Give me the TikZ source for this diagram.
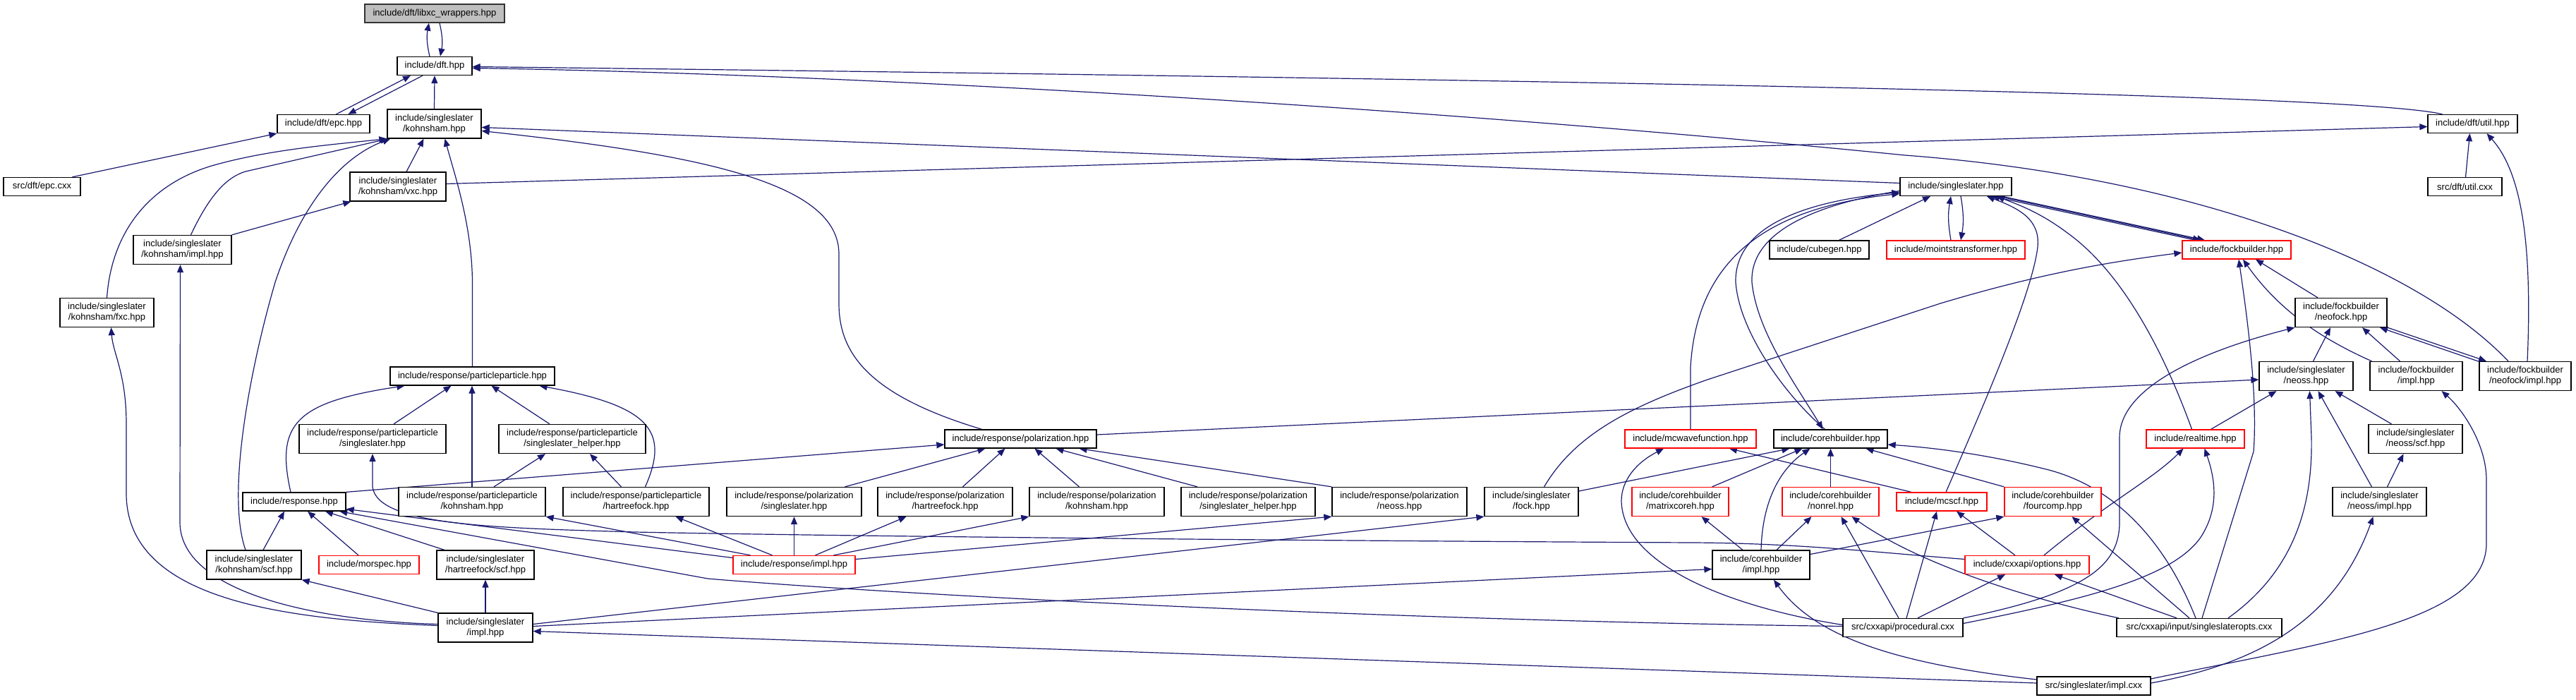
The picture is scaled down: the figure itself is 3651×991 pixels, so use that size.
\documentclass[tikz,border=0pt]{standalone}
\usepackage{fontspec}
\setmainfont{Liberation Sans}
\usetikzlibrary{arrows.meta}
\definecolor{edgecol}{HTML}{191970}
\definecolor{rootfill}{HTML}{BFBFBF}
\newcommand{\myfnt}{\fontsize{13}{15}\selectfont}
\pgfdeclarelayer{back}
\pgfdeclarelayer{bg}
\pgfsetlayers{back,bg,main}
\begin{document}
\begin{tikzpicture}[x=1pt,y=-1pt,
  nbox/.style={draw=black, line width=1.3pt, fill=white, inner sep=0pt, minimum height=26pt, align=center, font=\myfnt},
  two/.style={minimum height=41pt},
  trunc/.style={draw=red},
  rootn/.style={fill=rootfill, draw=black!80},
  dep/.style={draw=edgecol, line width=1.2pt, -{Triangle[length=11pt,width=9pt]}}]
\begin{pgfonlayer}{back}
\fill[white] (0,0) rectangle (3651,991);
\end{pgfonlayer}
\useasboundingbox (0,0) rectangle (3651,991);
% nodes
\node[nbox,rootn,minimum width=198pt] (libxc) at (616,19) {include/dft/libxc\_wrappers.hpp};
\node[nbox,minimum width=106pt] (dft) at (616,93.5) {include/dft.hpp};
\node[nbox,minimum width=131pt] (epc) at (458.5,175.5) {include/dft/epc.hpp};
\node[nbox,two,minimum width=133pt] (ks) at (615.5,175.5) {include/singleslater\\/kohnsham.hpp};
\node[nbox,minimum width=109pt] (epccxx) at (59.5,264.5) {src/dft/epc.cxx};
\node[nbox,two,minimum width=136pt] (vxc) at (564,264.5) {include/singleslater\\/kohnsham/vxc.hpp};
\node[nbox,two,minimum width=139pt] (ksimpl) at (258.5,354) {include/singleslater\\/kohnsham/impl.hpp};
\node[nbox,two,minimum width=133pt] (fxc) at (151.5,443) {include/singleslater\\/kohnsham/fxc.hpp};
\node[nbox,minimum width=233pt] (pp) at (669.5,533) {include/response/particleparticle.hpp};
\node[nbox,two,minimum width=208pt] (ppss) at (528,622) {include/response/particleparticle\\/singleslater.hpp};
\node[nbox,two,minimum width=208pt] (ppssh) at (811,622) {include/response/particleparticle\\/singleslater\_helper.hpp};
\node[nbox,minimum width=146pt] (resp) at (417,711) {include/response.hpp};
\node[nbox,two,minimum width=208pt] (ppks) at (669,711) {include/response/particleparticle\\/kohnsham.hpp};
\node[nbox,two,minimum width=207pt] (pphf) at (901.5,711) {include/response/particleparticle\\/hartreefock.hpp};
\node[nbox,two,minimum width=134pt] (ksscf) at (360,800.5) {include/singleslater\\/kohnsham/scf.hpp};
\node[nbox,trunc,minimum width=142pt] (morspec) at (523,800.5) {include/morspec.hpp};
\node[nbox,two,minimum width=138pt] (hfscf) at (688,800.5) {include/singleslater\\/hartreefock/scf.hpp};
\node[nbox,two,minimum width=134pt] (ssimpl) at (688,889.5) {include/singleslater\\/impl.hpp};
\node[nbox,minimum width=215pt] (pol) at (1446.5,622) {include/response/polarization.hpp};
\node[nbox,two,minimum width=191pt] (polss) at (1125.5,711) {include/response/polarization\\/singleslater.hpp};
\node[nbox,two,minimum width=191pt] (polhf) at (1339.5,711) {include/response/polarization\\/hartreefock.hpp};
\node[nbox,two,minimum width=191pt] (polks) at (1554.5,711) {include/response/polarization\\/kohnsham.hpp};
\node[nbox,two,minimum width=190pt] (polssh) at (1769,711) {include/response/polarization\\/singleslater\_helper.hpp};
\node[nbox,trunc,minimum width=173pt] (respimpl) at (1125.5,800.5) {include/response/impl.hpp};
\node[nbox,two,minimum width=191pt] (polneoss) at (1983.5,711) {include/response/polarization\\/neoss.hpp};
\node[nbox,two,minimum width=133pt] (fock) at (2170.5,711) {include/singleslater\\/fock.hpp};
\node[nbox,trunc,minimum width=186pt] (mcwave) at (2396,622) {include/mcwavefunction.hpp};
\node[nbox,minimum width=161pt] (coreh) at (2594.5,622) {include/corehbuilder.hpp};
\node[nbox,two,trunc,minimum width=137pt] (matrixcoreh) at (2381.5,711) {include/corehbuilder\\/matrixcoreh.hpp};
\node[nbox,two,trunc,minimum width=137pt] (nonrel) at (2594.5,711) {include/corehbuilder\\/nonrel.hpp};
\node[nbox,trunc,minimum width=128pt] (mcscf) at (2752,711) {include/mcscf.hpp};
\node[nbox,two,minimum width=138pt] (corehimpl) at (2496,800.5) {include/corehbuilder\\/impl.hpp};
\node[nbox,minimum width=170pt] (procedural) at (2697,889.5) {src/cxxapi/procedural.cxx};
\node[nbox,two,minimum width=133pt] (neoss) at (3268.5,533) {include/singleslater\\/neoss.hpp};
\node[nbox,two,minimum width=131pt] (fbimpl) at (3424.5,533) {include/fockbuilder\\/impl.hpp};
\node[nbox,two,minimum width=130pt] (neofockimpl) at (3579,533) {include/fockbuilder\\/neofock/impl.hpp};
\node[nbox,trunc,minimum width=139pt] (realtime) at (3111.5,622) {include/realtime.hpp};
\node[nbox,two,minimum width=133pt] (neossscf) at (3423.5,622) {include/singleslater\\/neoss/scf.hpp};
\node[nbox,two,trunc,minimum width=137pt] (fourcomp) at (2909.5,711) {include/corehbuilder\\/fourcomp.hpp};
\node[nbox,two,minimum width=133pt] (neossimpl) at (3372.5,711) {include/singleslater\\/neoss/impl.hpp};
\node[nbox,trunc,minimum width=176pt] (options) at (2873,800.5) {include/cxxapi/options.hpp};
\node[nbox,minimum width=234pt] (ssopts) at (3117,889.5) {src/cxxapi/input/singleslateropts.cxx};
\node[nbox,minimum width=161pt] (ssimplcxx) at (2967.5,972) {src/singleslater/impl.cxx};
\node[nbox,minimum width=127pt] (util) at (3504.5,175.5) {include/dft/util.hpp};
\node[nbox,minimum width=105pt] (utilcxx) at (3493.5,264.5) {src/dft/util.cxx};
\node[nbox,minimum width=158pt] (ss) at (2772,264.5) {include/singleslater.hpp};
\node[nbox,trunc,minimum width=196pt] (moints) at (2772,354) {include/mointstransformer.hpp};
\node[nbox,trunc,minimum width=154pt] (fb) at (3170,354) {include/fockbuilder.hpp};
\node[nbox,two,minimum width=130pt] (neofock) at (3318,443) {include/fockbuilder\\/neofock.hpp};
\node[nbox,minimum width=141pt] (cubegen) at (2578.5,354) {include/cubegen.hpp};
% edges
\begin{pgfonlayer}{bg}
\draw[dep] ([xshift=-7pt]dft.north) to[bend left=12] ([xshift=-8pt]libxc.south);
\draw[dep] ([xshift=7pt]libxc.south) to[bend left=12] ([xshift=8pt]dft.north);
\draw[dep] ([xshift=18pt]epc.north) -- ([xshift=-34pt]dft.south);
\draw[dep] ([xshift=-17pt]dft.south) -- ([xshift=35pt]epc.north);
\draw[dep] (ks.north) -- (dft.south);
\draw[dep] ([xshift=-43pt]util.north) .. controls (3350,135) and (2400,115) .. ([yshift=-1pt]dft.east);
\draw[dep] ([xshift=-24pt]neofockimpl.north) .. controls (3420,370) and (3100,250) .. (2700,220) .. controls (2000,150) and (1200,105) .. ([yshift=-3pt]dft.east);
\draw[dep] ([xshift=3pt]neofockimpl.north) .. controls (3590,330) and (3570,240) .. ([xshift=20pt]util.south);
\draw[dep] ([xshift=1pt]utilcxx.north) -- ([xshift=-4pt]util.south);
\draw[dep] ([yshift=4pt]vxc.east) -- ([yshift=-4pt]util.west);
\draw[dep] ([yshift=5pt]ss.west) -- ([yshift=-5pt]ks.east);
\draw[dep] ([xshift=-55pt]pol.north) .. controls (1230,560) and (1189,500) .. (1189,430) -- (1189,360) .. controls (1189,260) and (1000,220) .. ([yshift=-10pt]ks.east);
\draw[dep] ([xshift=12pt]vxc.north) -- ([xshift=-15pt]ks.south);
\draw[dep] (ksimpl.north east) -- ([xshift=2pt]vxc.south west);
\draw[dep] ([xshift=12pt]ksimpl.north) .. controls (300,270) and (325,250) .. (348,243) -- ([xshift=2pt]ks.south west);
\draw[dep] (fxc.north) .. controls (158,330) and (210,262) .. (300,235) .. controls (380,212) and (470,205) .. (ks.south west);
\draw[dep] ([xshift=-12pt]ksscf.north) .. controls (320,700) and (355,520) .. (390,400) .. controls (430,280) and (490,220) .. ([xshift=5pt]ks.south west);
\draw[dep] (pp.north) -- (669.5,400) .. controls (669,320) and (645,250) .. ([xshift=15pt]ks.south);
\draw[dep] ([xshift=43pt]epccxx.north) -- (epc.south west);
\draw[dep] ([yshift=3pt]ssimpl.west) .. controls (400,878) and (180,850) .. (179,700) -- (179,600) .. controls (179,530) and (160,500) .. ([xshift=6pt]fxc.south);
\draw[dep] ([yshift=5pt]ssimpl.west) .. controls (450,880) and (255,840) .. (255,740) -- ([xshift=-3pt]ksimpl.south);
\draw[dep] (ssimpl.north west) -- (ksscf.south east);
\draw[dep] (ssimpl.north) -- (hfscf.south);
\draw[dep] ([xshift=30pt]ppss.north) -- ([xshift=-30pt]pp.south);
\draw[dep] ([xshift=-32pt]ppssh.north) -- ([xshift=27pt]pp.south);
\draw[dep] (ppks.north) -- ([xshift=-0.5pt]pp.south);
\draw[dep] ([xshift=-5pt]resp.north) .. controls (390,600) and (420,570) .. ([xshift=-96pt]pp.south);
\draw[dep] ([xshift=13pt]pphf.north) .. controls (950,610) and (920,575) .. ([xshift=95pt]pp.south);
\draw[dep] ([xshift=31pt]ppks.north) -- ([xshift=-38pt]ppssh.south);
\draw[dep] ([xshift=-21pt]pphf.north) -- ([xshift=25pt]ppssh.south);
\draw[dep] ([yshift=8pt]options.west) .. controls (2650,782) and (2550,770) .. (2400,769) .. controls (1800,766) and (1200,760) .. (900,754) .. controls (700,748) and (535,745) .. (528,690) -- (ppss.south);
\draw[dep] ([yshift=10pt]respimpl.west) -- (resp.-8);
\draw[dep] ([yshift=2pt]procedural.west) .. controls (2000,880) and (1300,845) .. (1003,820) -- (resp.-12);
\draw[dep] ([xshift=-62pt]respimpl.north) -- (ppks.south east);
\draw[dep] ([xshift=-31pt]respimpl.north) -- ([xshift=56pt]pphf.south);
\draw[dep] (respimpl.north) -- (polss.south);
\draw[dep] ([xshift=30pt]respimpl.north) -- ([xshift=-55pt]polhf.south);
\draw[dep] ([xshift=56pt]respimpl.north) -- (polks.south west);
\draw[dep] ([yshift=8pt]respimpl.east) -- (polneoss.south west);
\draw[dep] ([xshift=72pt]polss.north) -- ([xshift=-50pt]pol.south);
\draw[dep] ([xshift=25pt]polhf.north) -- ([xshift=-22pt]pol.south);
\draw[dep] ([xshift=-25pt]polks.north) -- ([xshift=20pt]pol.south);
\draw[dep] ([xshift=-72pt]polssh.north) -- ([xshift=50pt]pol.south);
\draw[dep] (polneoss.north west) -- ([xshift=83pt]pol.south);
\draw[dep] ([yshift=6pt]pol.east) -- ([yshift=-5pt]neoss.west);
\draw[dep] (resp.north east) -- ([yshift=-8pt]pol.west);
\draw[dep] ([xshift=13pt]ksscf.north) -- ([xshift=-14pt]resp.south);
\draw[dep] ([xshift=-15pt]morspec.north) -- ([xshift=19pt]resp.south);
\draw[dep] ([xshift=-58pt]hfscf.north) -- ([xshift=44pt]resp.south);
\draw[dep] ([yshift=5pt]ssimpl.east) -- (fock.south west);
\draw[dep] ([yshift=2pt]ssimpl.east) -- ([yshift=-6pt]corehimpl.west);
\draw[dep] ([yshift=4pt]ssimplcxx.west) -- ([yshift=-5pt]ssimpl.east);
\draw[dep] (mcwave.north) -- (2396,520) .. controls (2405,370) and (2500,295) .. ([yshift=-10pt]ss.west);
\draw[dep] ([xshift=-8pt]coreh.north) .. controls (2530,560) and (2465,470) .. (2460,400) .. controls (2458,320) and (2560,285) .. ([yshift=-8pt]ss.west);
\draw[dep] ([yshift=-6pt]ss.west) .. controls (2570,290) and (2480,330) .. (2483,400) .. controls (2490,470) and (2545,545) .. ([xshift=-11pt]coreh.north);
\draw[dep] ([xshift=28pt]cubegen.north) -- ([xshift=-36pt]ss.south);
\draw[dep] ([xshift=-7pt]moints.north) to[bend left=10] ([xshift=-7pt]ss.south);
\draw[dep] ([xshift=7pt]ss.south) to[bend left=10] ([xshift=7pt]moints.north);
\draw[dep] ([xshift=-58pt]fb.north) -- ([xshift=51pt]ss.south);
\draw[dep] ([xshift=60pt]ss.south) -- ([xshift=-51pt]fb.north);
\draw[dep] ([xshift=65pt]ss.south) -- ([xshift=-45pt]fb.north);
\draw[dep] ([xshift=6pt]mcscf.north) .. controls (2800,600) and (2880,420) .. (2888,350) .. controls (2892,310) and (2860,295) .. ([xshift=44pt]ss.south);
\draw[dep] ([xshift=-5pt]realtime.north) .. controls (3060,480) and (3000,380) .. (2930,330) .. controls (2890,300) and (2860,290) .. ([xshift=58pt]ss.south);
\draw[dep] ([xshift=18pt]fock.north) .. controls (2230,620) and (2300,580) .. (2420,538) -- (2750,430) .. controls (2900,385) and (3000,370) .. ([yshift=-4pt]fb.west);
\draw[dep] ([yshift=15pt]fock.east) -- ([xshift=-58pt]coreh.south);
\draw[dep] ([xshift=45pt]matrixcoreh.north) -- ([xshift=-40pt]coreh.south);
\draw[dep] (nonrel.north) -- (coreh.south);
\draw[dep] (corehimpl.north) .. controls (2498,700) and (2530,660) .. ([xshift=-29pt]coreh.south);
\draw[dep] ([xshift=-26pt]corehimpl.north) -- ([xshift=30pt]matrixcoreh.south);
\draw[dep] ([xshift=22pt]corehimpl.north) -- ([xshift=-27pt]nonrel.south);
\draw[dep] ([yshift=15pt]corehimpl.east) -- (fourcomp.south west);
\draw[dep] ([yshift=9pt]ssimplcxx.west) .. controls (2680,940) and (2570,900) .. ([xshift=18pt]corehimpl.south);
\draw[dep] ([yshift=4pt]procedural.west) .. controls (2450,860) and (2300,800) .. (2298,710) .. controls (2298,680) and (2320,655) .. ([xshift=-38pt]mcwave.south);
\draw[dep] ([xshift=-43pt]mcscf.north) -- ([xshift=55pt]mcwave.south);
\draw[dep] ([xshift=-5pt]ssopts.north) .. controls (3070,770) and (3000,690) .. (2900,665) .. controls (2800,640) and (2720,633) .. ([yshift=-8pt]coreh.east);
\draw[dep] (fourcomp.north west) -- ([xshift=50pt]coreh.south);
\draw[dep] ([xshift=-6pt]procedural.north) -- ([xshift=15pt]nonrel.south);
\draw[dep] ([xshift=-114pt]ssopts.north) .. controls (2880,850) and (2720,800) .. ([xshift=30pt]nonrel.south);
\draw[dep] ([xshift=5pt]procedural.north) -- ([xshift=-7pt]mcscf.south);
\draw[dep] ([xshift=-17pt]options.north) -- ([xshift=21pt]mcscf.south);
\draw[dep] ([xshift=21pt]procedural.north) -- ([xshift=-31pt]options.south);
\draw[dep] ([xshift=-32pt]ssopts.north) -- ([xshift=39pt]options.south);
\draw[dep] ([xshift=24pt]options.north) .. controls (2990,710) and (3050,680) .. ([xshift=-17pt]realtime.south);
\draw[dep] ([yshift=6pt]procedural.east) .. controls (2950,850) and (3080,820) .. (3120,760) .. controls (3145,720) and (3140,680) .. ([xshift=13pt]realtime.south);
\draw[dep] ([xshift=22pt]realtime.north) -- ([xshift=-42pt]neoss.south);
\draw[dep] ([xshift=41pt]ssopts.north) .. controls (3250,810) and (3278,720) .. (3276,620) -- ([xshift=5pt]neoss.south);
\draw[dep] ([xshift=-11pt]neossimpl.north) -- ([xshift=17pt]neoss.south);
\draw[dep] ([xshift=-34pt]neossscf.north) -- ([xshift=41pt]neoss.south);
\draw[dep] ([xshift=11pt]neossimpl.north) -- ([xshift=-17pt]neossscf.south);
\draw[dep] ([yshift=4pt]ssimplcxx.east) .. controls (3200,940) and (3310,880) .. ([xshift=-9pt]neossimpl.south);
\draw[dep] ([yshift=10pt]ssimplcxx.east) .. controls (3300,910) and (3524,880) .. (3524,770) -- (3524,680) .. controls (3524,630) and (3490,580) .. ([xshift=36pt]fbimpl.south);
\draw[dep] ([xshift=-14pt]ssopts.north) -- ([xshift=27pt]fourcomp.south);
\draw[dep] ([xshift=4pt]ssopts.north) -- (3194,640) .. controls (3200,560) and (3185,450) .. ([xshift=3pt]fb.south);
\draw[dep] (procedural.north east) .. controls (2960,840) and (3004,800) .. (3004,740) -- (3004,620) .. controls (3004,540) and (3150,490) .. (neofock.south west);
\draw[dep] ([xshift=10pt]neoss.north) -- ([xshift=-15pt]neofock.south);
\draw[dep] ([xshift=-23pt]fbimpl.north) -- ([xshift=30pt]neofock.south);
\draw[dep] ([xshift=-67pt]neofockimpl.north) -- ([xshift=55pt]neofock.south);
\draw[dep] (neofock.south east) -- ([xshift=-55pt]neofockimpl.north);
\draw[dep] ([xshift=-33pt]neofock.north) -- ([xshift=27pt]fb.south);
\draw[dep] ([xshift=-63pt]fbimpl.north) .. controls (3290,480) and (3230,440) .. ([xshift=9pt]fb.south);
\end{pgfonlayer}
\end{tikzpicture}
\end{document}
